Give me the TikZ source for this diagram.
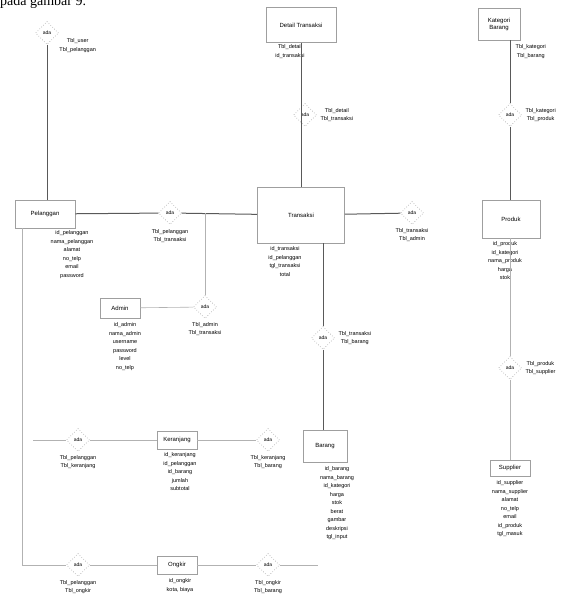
\documentclass[tikz,border=0pt]{standalone}
\usepackage{fontspec}
\setmainfont{Liberation Serif}
\newfontfamily\erdfont{Liberation Sans}
\usetikzlibrary{shapes.geometric,positioning}

\tikzset{
  entitas/.style={draw=gray!75, line width=0.7pt, fill=white, align=center,
    font=\erdfont\fontsize{6}{7}\selectfont, inner sep=1pt},
  relasi/.style={diamond, draw=gray!70, dotted, line width=0.6pt, fill=white,
    minimum width=23pt, minimum height=23pt, inner sep=0pt,
    font=\erdfont\fontsize{5}{6}\selectfont},
  atribut/.style={align=center, font=\erdfont\fontsize{5.5}{8.5}\selectfont, inner sep=0.5pt},
  garis/.style={draw=gray!60, line width=0.6pt},
  garistebal/.style={draw=gray!70!black, line width=1pt},
}

\begin{document}
\begin{tikzpicture}[x=1pt, y=-1pt]
    \useasboundingbox (0,0) rectangle (577,606);
    % Caption cut off at the top
    \node[anchor=base west, inner sep=0pt, font=\fontsize{14}{16}\selectfont] (judul) at (0,5) {pada gambar 9.};
    % Entities
    \node[entitas, minimum width=60pt, minimum height=28pt] (pelanggan) at (45,214) {Pelanggan};
    \node[entitas, minimum width=87pt, minimum height=56pt] (transaksi) at (301,215) {Transaksi};
    \node[entitas, minimum width=70pt, minimum height=35pt] (detail) at (301,25) {Detail Transaksi};
    \node[entitas, minimum width=44pt, minimum height=32pt] (barang) at (325,446) {Barang};
    \node[entitas, minimum width=40pt, minimum height=20pt] (admin) at (120,308) {Admin};
    \node[entitas, minimum width=40pt, minimum height=18pt] (keranjang) at (177,440) {Keranjang};
    \node[entitas, minimum width=40pt, minimum height=18pt] (ongkir) at (177,565) {Ongkir};
    \node[entitas, minimum width=42pt, minimum height=32pt] (kategori) at (499,24) {Kategori\\Barang};
    \node[entitas, minimum width=58pt, minimum height=38pt] (produk) at (511,219) {Produk};
    \node[entitas, minimum width=40pt, minimum height=16pt] (supplier) at (510,468) {Supplier};
    % Relationships
    \node[relasi] (r1) at (47,33) {ada};
    \node[relasi] (r2) at (170,213) {ada};
    \node[relasi] (r3) at (305,115) {ada};
    \node[relasi] (r4) at (412,213) {ada};
    \node[relasi] (r5) at (323,338) {ada};
    \node[relasi] (r6) at (205,307) {ada};
    \node[relasi] (r7) at (78,440) {ada};
    \node[relasi] (r8) at (268,440) {ada};
    \node[relasi] (r9) at (78,565) {ada};
    \node[relasi] (r10) at (268,565) {ada};
    \node[relasi] (r11) at (510,115) {ada};
    \node[relasi] (r12) at (510,368) {ada};
    % Attributes and table names
    \node[atribut, anchor=north west] (t1) at (r1.east |- 0,38) {Tbl\_user\\Tbl\_pelanggan};
    \node[atribut, anchor=north] (a1) at (72,230) {id\_pelanggan\\nama\_pelanggan\\alamat\\no\_telp\\email\\password};
    \node[atribut, below=4pt of r2] (t2) {Tbl\_pelanggan\\Tbl\_transaksi};
    \node[atribut, anchor=north] (t3) at (290,44) {Tbl\_detail\\id\_transaksi};
    \node[atribut, right=3pt of r3] (t4) {Tbl\_detail\\Tbl\_transaksi};
    \node[atribut, anchor=north] (a2) at (285,246) {id\_transaksi\\id\_pelanggan\\tgl\_transaksi\\total};
    \node[atribut, below=3pt of r4] (t5) {Tbl\_transaksi\\Tbl\_admin};
    \node[atribut, right=3pt of r5] (t6) {Tbl\_transaksi\\Tbl\_barang};
    \node[atribut, anchor=north] (a3) at (337,466) {id\_barang\\nama\_barang\\id\_kategori\\harga\\stok\\berat\\gambar\\deskripsi\\tgl\_input};
    \node[atribut, below=3pt of r6] (t7) {Tbl\_admin\\Tbl\_transaksi};
    \node[atribut, anchor=north] (a4) at (125,322) {id\_admin\\nama\_admin\\username\\password\\level\\no\_telp};
    \node[atribut, below=3pt of r7] (t8) {Tbl\_pelanggan\\Tbl\_keranjang};
    \node[atribut, anchor=north] (a5) at (180,452) {id\_keranjang\\id\_pelanggan\\id\_barang\\jumlah\\subtotal};
    \node[atribut, below=3pt of r8] (t9) {Tbl\_keranjang\\Tbl\_barang};
    \node[atribut, below=3pt of r9] (t10) {Tbl\_pelanggan\\Tbl\_ongkir};
    \node[atribut, anchor=north] (a6) at (180,578) {id\_ongkir\\kota, biaya};
    \node[atribut, below=3pt of r10] (t11) {Tbl\_ongkir\\Tbl\_barang};
    \node[atribut, anchor=north west] (t12) at (515,44) {Tbl\_kategori\\Tbl\_barang};
    \node[atribut, right=3pt of r11] (t13) {Tbl\_kategori\\Tbl\_produk};
    \node[atribut, anchor=north] (a7) at (505,241) {id\_produk\\id\_kategori\\nama\_produk\\harga\\stok};
    \node[atribut, right=3pt of r12] (t14) {Tbl\_produk\\Tbl\_supplier};
    \node[atribut, anchor=north] (a8) at (510,480) {id\_supplier\\nama\_supplier\\alamat\\no\_telp\\email\\id\_produk\\tgl\_masuk};
    % Free ends and branch points
    \coordinate (cabang) at (205,213);
    \coordinate (kiri) at (22,565);
    \coordinate (awal7) at (33,440);
    \coordinate (akhir10) at (318,565);
    % Connectors
    \draw[garistebal] (r1) -- (pelanggan.north -| r1);
    \draw[garistebal] (pelanggan) -- (r2);
    \draw[garistebal] (r2) -- (transaksi);
    \draw[garistebal] (detail) -- (transaksi.north -| detail);
    \draw[garis] (r6) -- (cabang);
    \draw[garis] (admin) -- (r6);
    \draw[garistebal] (transaksi) -- (r4);
    \draw[garistebal] (transaksi.south -| r5) -- (r5);
    \draw[garistebal] (r5) -- (barang.north -| r5);
    \draw[garis] (pelanggan.south -| kiri) -- (kiri) -- (r9);
    \draw[garis] (awal7) -- (r7);
    \draw[garis] (r7) -- (keranjang);
    \draw[garis] (keranjang) -- (r8);
    \draw[garis] (r9) -- (ongkir);
    \draw[garis] (ongkir) -- (r10);
    \draw[garis] (r10) -- (akhir10);
    \draw[garistebal] (kategori.south -| r11) -- (r11);
    \draw[garistebal] (r11) -- (produk.north -| r11);
    \draw[garis] (produk.south -| r12) -- (r12);
    \draw[garis] (r12) -- (supplier);
\end{tikzpicture}
\end{document}
